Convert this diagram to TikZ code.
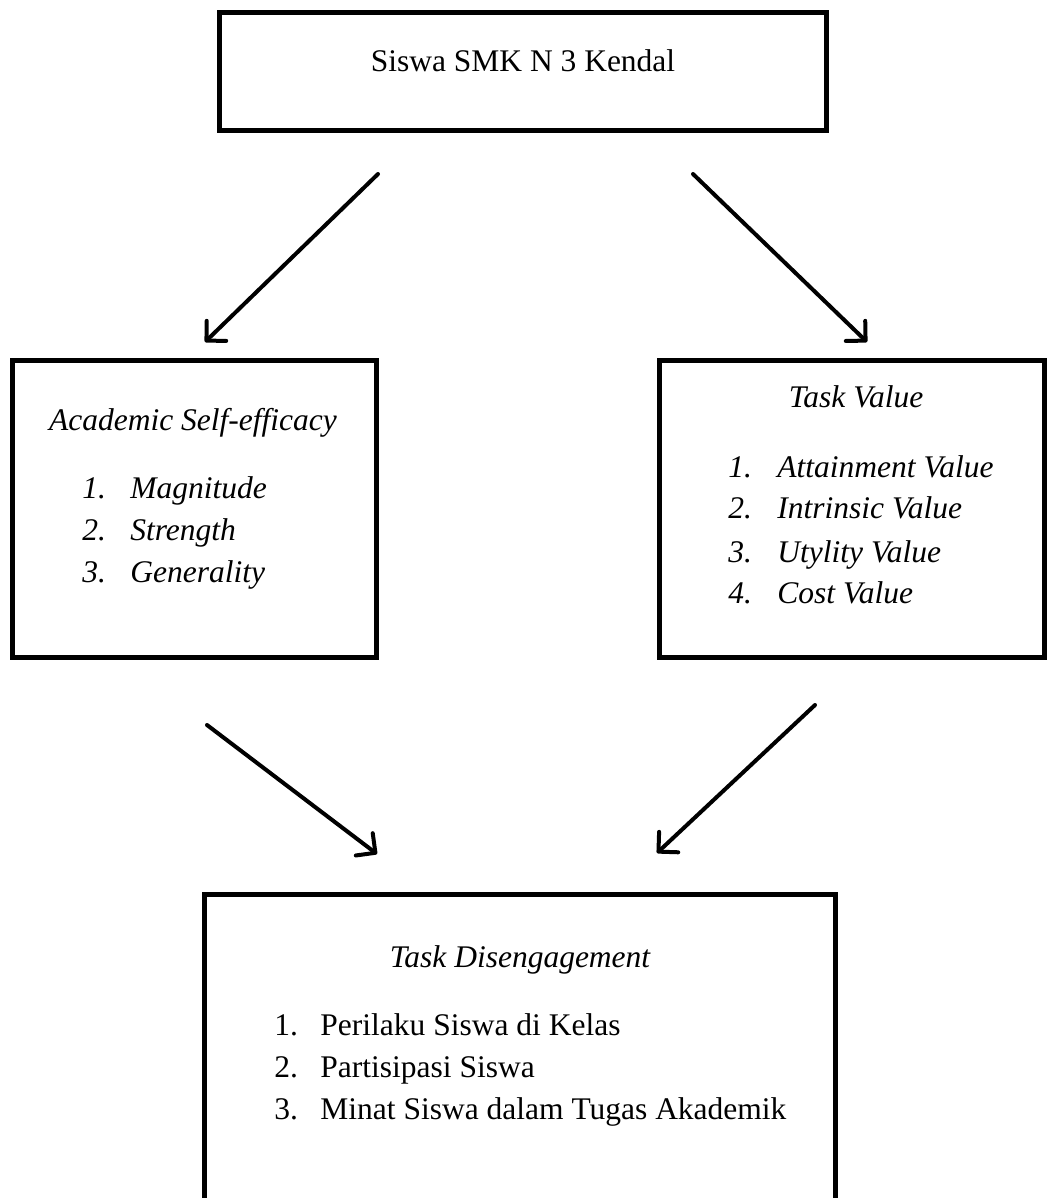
\documentclass[tikz,border=0pt]{standalone}
\usepackage{fontspec}
\setmainfont{Liberation Serif}
\usetikzlibrary{arrows.meta,fit}
\begin{document}
\begin{tikzpicture}[x=0.5pt,y=-0.5pt,
  boxframe/.style={draw, line width=2.5pt, inner sep=0pt},
  txt/.style={font=\fontsize{15.75pt}{18pt}\selectfont, inner sep=0pt, anchor=base},
  itemtxt/.style={txt, anchor=base west},
  arr/.style={line width=2pt, line cap=round, -{Straight Barb[length=7pt,width=14pt,round]}}
]
\useasboundingbox (0,0) rectangle (1048,1198);

% boxes
\node[boxframe, fit={(219.5,12.5) (826.5,130.5)}] (top) {};
\node[boxframe, fit={(12.5,360.5) (376.5,657.5)}] (left) {};
\node[boxframe, fit={(659.5,360.5) (1044.5,657.5)}] (right) {};
\node[boxframe, fit={(204.5,894.5) (835.5,1260)}] (bottom) {};

% top text
\node[txt] (toptxt) at (523,72) {Siswa SMK N 3 Kendal};

% left box
\node[txt] (lt) at (193,430) {\itshape Academic Self-efficacy};
\node[itemtxt] (ln1) at (82,498) {\itshape 1.};
\node[itemtxt] (li1) at (130,498) {\itshape Magnitude};
\node[itemtxt] (ln2) at (82,540) {\itshape 2.};
\node[itemtxt] (li2) at (130,540) {\itshape Strength};
\node[itemtxt] (ln3) at (82,582) {\itshape 3.};
\node[itemtxt] (li3) at (130,582) {\itshape Generality};

% right box
\node[txt] (rt) at (856,407) {\itshape Task Value};
\node[itemtxt] (rn1) at (728,477) {\itshape 1.};
\node[itemtxt] (ri1) at (777,477) {\itshape Attainment Value};
\node[itemtxt] (rn2) at (728,518) {\itshape 2.};
\node[itemtxt] (ri2) at (777,518) {\itshape Intrinsic Value};
\node[itemtxt] (rn3) at (728,562) {\itshape 3.};
\node[itemtxt] (ri3) at (777,562) {\itshape Utylity Value};
\node[itemtxt] (rn4) at (728,603) {\itshape 4.};
\node[itemtxt] (ri4) at (777,603) {\itshape Cost Value};

% bottom box
\node[txt] (bt) at (520,967) {\itshape Task Disengagement};
\node[itemtxt] (bn1) at (274,1035) {1.};
\node[itemtxt] (bi1) at (320,1035) {Perilaku Siswa di Kelas};
\node[itemtxt] (bn2) at (274,1077) {2.};
\node[itemtxt] (bi2) at (320,1077) {Partisipasi Siswa};
\node[itemtxt] (bn3) at (274,1119) {3.};
\node[itemtxt] (bi3) at (320,1119) {Minat Siswa dalam Tugas Akademik};

% arrows
\coordinate (a1s) at (378,174); \coordinate (a1e) at (205,342);
\coordinate (a2s) at (693,174); \coordinate (a2e) at (867,342);
\coordinate (a3s) at (207,725); \coordinate (a3e) at (377,854);
\coordinate (a4s) at (815,705); \coordinate (a4e) at (657,853);
\draw[arr] (a1s) -- (a1e);
\draw[arr] (a2s) -- (a2e);
\draw[arr] (a3s) -- (a3e);
\draw[arr] (a4s) -- (a4e);
\end{tikzpicture}
\end{document}
